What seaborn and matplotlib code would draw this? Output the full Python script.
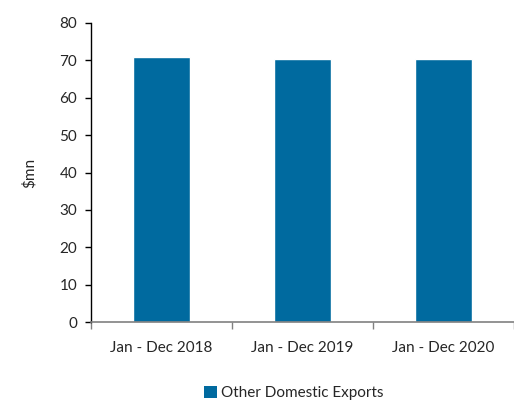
import matplotlib
matplotlib.use("Agg")
import matplotlib.pyplot as plt
import seaborn as sns
import pandas as pd
from matplotlib.patches import Patch

categories = ["Jan - Dec 2018", "Jan - Dec 2019", "Jan - Dec 2020"]
values = [70.9, 70.5, 70.5]
series_name = "Other Domestic Exports"
yticks = [0, 10, 20, 30, 40, 50, 60, 70, 80]

sns.set_style("white")
plt.rcParams['font.family'] = ['Lato', 'DejaVu Sans']

df = pd.DataFrame({"cat": categories, "val": values})
color = "#006A9F"

fig = plt.figure(figsize=(5.14, 4.0), dpi=100)
ax = fig.add_axes([91/514, 1-322/400, (514-91)/514, (322-23)/400])
sns.barplot(data=df, x="cat", y="val", color=color, width=0.4, saturation=1, ax=ax)

ax.set_ylim(0, 80)
ax.set_xlim(-0.5, 2.5)
ax.set_yticks(yticks)
ax.set_yticklabels([str(t) for t in yticks], fontsize=11)
ax.set_xticks([-0.5, 0.5, 1.5, 2.5], minor=False)
ax.set_xticklabels([])
ax.set_xticks([0, 1, 2], minor=True)
ax.set_xticklabels(categories, minor=True, fontsize=11)
ax.tick_params(axis='x', which='major', direction='out', length=5, width=1, color='#808080', bottom=True)
ax.tick_params(axis='x', which='minor', length=0, pad=14)
ax.tick_params(axis='y', direction='out', length=4, width=1, color='black', left=True, pad=6)
ax.set_xlabel("")
ax.set_ylabel("$mn", fontsize=11)
ax.yaxis.set_label_coords((37-91)/423, 0.5)
for s in ['top', 'right']:
    ax.spines[s].set_visible(False)
ax.spines['left'].set_color('black')
ax.spines['bottom'].set_color('#808080')
ax.spines['left'].set_linewidth(1)
ax.spines['bottom'].set_linewidth(1.2)

handles = [Patch(facecolor=color, edgecolor='none', label=series_name)]
fig.legend(handles=handles, loc='center', bbox_to_anchor=(294/514, 1-393/400), frameon=False,
           fontsize=11, handlelength=0.8, handleheight=0.8, handletextpad=0.3)

fig.savefig("out.png", dpi=100)
